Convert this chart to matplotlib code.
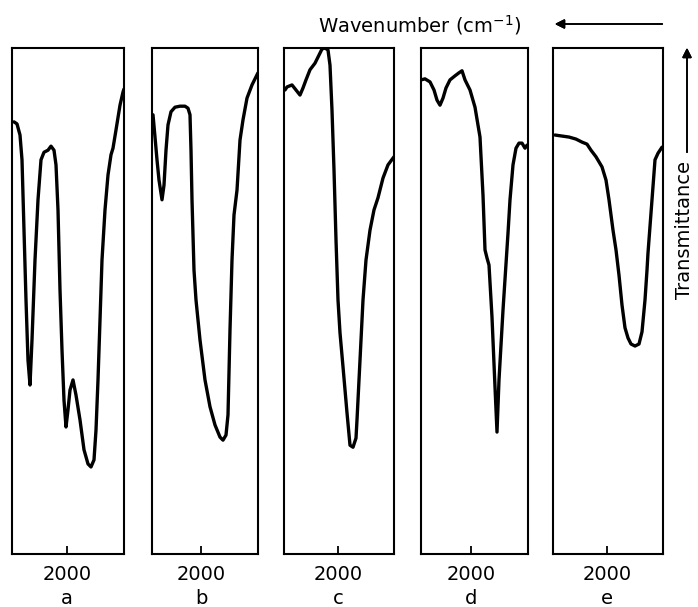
import matplotlib.pyplot as plt

# IR spectra, wavenumber (cm-1) vs transmittance (%)
wn_a = [2265, 2250, 2235, 2225, 2215, 2205, 2195, 2185, 2175, 2160, 2145, 2130, 2115, 2095, 2080,
        2065, 2055, 2045, 2035, 2025, 2015, 2005, 1995, 1985, 1970, 1955, 1935, 1915, 1895, 1880,
        1865, 1855, 1845, 1835, 1825, 1810, 1795, 1780, 1770, 1755, 1735, 1720, 1715]
tr_a = [85.4, 85.0, 82.8, 77.9, 64.0, 50.2, 38.3, 33.4, 42.3, 58.1, 70.0, 77.9, 79.4, 79.8, 80.6,
        79.8, 76.9, 68.0, 52.2, 40.3, 30.4, 25.1, 28.5, 32.4, 34.4, 31.4, 26.5, 20.6, 17.8, 17.2,
        18.6, 24.5, 34.4, 46.2, 58.1, 68.0, 74.9, 78.9, 80.2, 83.8, 88.7, 91.3, 91.9]

wn_b = [2240, 2230, 2220, 2210, 2195, 2185, 2175, 2165, 2150, 2130, 2105, 2080, 2065, 2055, 2050,
        2045, 2035, 2025, 2005, 1980, 1955, 1930, 1905, 1890, 1875, 1865, 1855, 1845, 1835, 1820,
        1805, 1790, 1770, 1745, 1715]
tr_b = [86.8, 82.4, 77.9, 73.9, 70.0, 72.9, 79.8, 84.8, 87.4, 88.3, 88.5, 88.5, 88.1, 86.8, 79.8,
        70.0, 56.1, 50.2, 42.3, 34.4, 29.1, 25.5, 23.1, 22.5, 23.5, 27.5, 44.3, 58.1, 67.0, 71.9,
        81.8, 85.8, 90.1, 92.7, 95.1]

wn_c = [2265, 2255, 2230, 2210, 2190, 2175, 2160, 2140, 2115, 2095, 2080, 2065, 2050, 2040, 2030,
        2020, 2010, 2000, 1990, 1975, 1955, 1940, 1925, 1910, 1905, 1890, 1875, 1860, 1840, 1820,
        1800, 1775, 1750, 1720]
tr_c = [91.7, 92.3, 92.7, 91.7, 90.7, 92.1, 93.7, 95.7, 97.0, 98.6, 99.8, 100.0, 99.6, 96.6, 87.7,
        75.9, 62.1, 50.2, 43.7, 37.0, 27.9, 21.5, 21.1, 22.9, 26.5, 38.3, 50.2, 58.1, 64.0, 68.0,
        70.4, 74.3, 76.9, 78.5]

wn_d = [2250, 2230, 2205, 2185, 2170, 2155, 2140, 2125, 2105, 2080, 2060, 2045, 2030, 2005, 1980,
        1955, 1940, 1930, 1920, 1910, 1895, 1880, 1870, 1860, 1840, 1815, 1805, 1790, 1775, 1760,
        1745, 1730, 1720]
tr_d = [93.7, 93.9, 93.3, 91.7, 89.7, 88.7, 90.1, 92.1, 93.7, 94.5, 95.1, 95.5, 93.7, 91.7, 88.3,
        82.4, 70.9, 60.1, 58.5, 57.1, 46.8, 33.0, 24.1, 34.4, 48.2, 63.4, 70.0, 76.9, 80.2, 81.2,
        81.2, 80.2, 80.8]

wn_e = [2260, 2225, 2190, 2155, 2125, 2100, 2080, 2055, 2025, 2005, 1990, 1970, 1955, 1940, 1925,
        1910, 1895, 1880, 1860, 1840, 1825, 1810, 1800, 1795, 1775, 1760, 1745, 1725]
tr_e = [82.8, 82.6, 82.4, 82.0, 81.4, 81.0, 79.8, 78.5, 76.5, 73.9, 70.0, 64.0, 60.1, 55.1, 49.2,
        44.7, 42.7, 41.5, 41.1, 41.5, 43.9, 50.2, 56.1, 59.5, 70.0, 77.9, 79.2, 80.4]

labels = ['a', 'b', 'c', 'd', 'e']
xlims = [(2275, 1715), (2245, 1715), (2270, 1720), (2250, 1715), (2270, 1720)]

# panel edges in pixels (left, right), figure is 698 x 607
panels_px = [(12, 124), (152, 258), (284, 394), (421, 528), (553, 663)]
top_px, bot_px = 48, 554
W, H = 698, 607

fig = plt.figure(figsize=(6.98, 6.07), dpi=100)
spectra = [(wn_a, tr_a), (wn_b, tr_b), (wn_c, tr_c), (wn_d, tr_d), (wn_e, tr_e)]

for i, (wn, tr) in enumerate(spectra):
    x0, x1 = panels_px[i]
    ax = fig.add_axes([x0 / W, 1 - bot_px / H, (x1 - x0) / W, (bot_px - top_px) / H])
    ax.plot(wn, tr, color='black', lw=2.4, solid_joinstyle='round', solid_capstyle='round')
    ax.set_xlim(*xlims[i])
    ax.set_ylim(0, 100)
    ax.set_yticks([])
    ax.set_xticks([2000])
    ax.set_xticklabels(['2000'], fontsize=14)
    ax.tick_params(axis='x', direction='in', length=6, width=1.3, pad=8)
    for sp in ax.spines.values():
        sp.set_linewidth(1.5)
    # panel letter under the tick label
    xt = ax.transData.transform((2000, 0))[0]
    fig.text(xt / W, 1 - 598 / H, labels[i], fontsize=14, ha='center', va='center')

fig.text(420 / W, 1 - 25 / H, 'Wavenumber (cm$^{-1}$)', fontsize=14, ha='center', va='center')
fig.add_artist(plt.annotate('', xy=(552 / W, 1 - 24 / H), xytext=(665 / W, 1 - 24 / H),
                            xycoords='figure fraction', textcoords='figure fraction',
                            arrowprops=dict(arrowstyle='-|>', color='black', lw=1.2,
                                            mutation_scale=14)))

fig.text(685 / W, 1 - 230 / H, 'Transmittance', fontsize=14, rotation=90, ha='center', va='center')
fig.add_artist(plt.annotate('', xy=(687 / W, 1 - 45 / H), xytext=(687 / W, 1 - 155 / H),
                            xycoords='figure fraction', textcoords='figure fraction',
                            arrowprops=dict(arrowstyle='-|>', color='black', lw=1.2,
                                            mutation_scale=14)))

plt.savefig('out.png', dpi=100)
plt.close()
